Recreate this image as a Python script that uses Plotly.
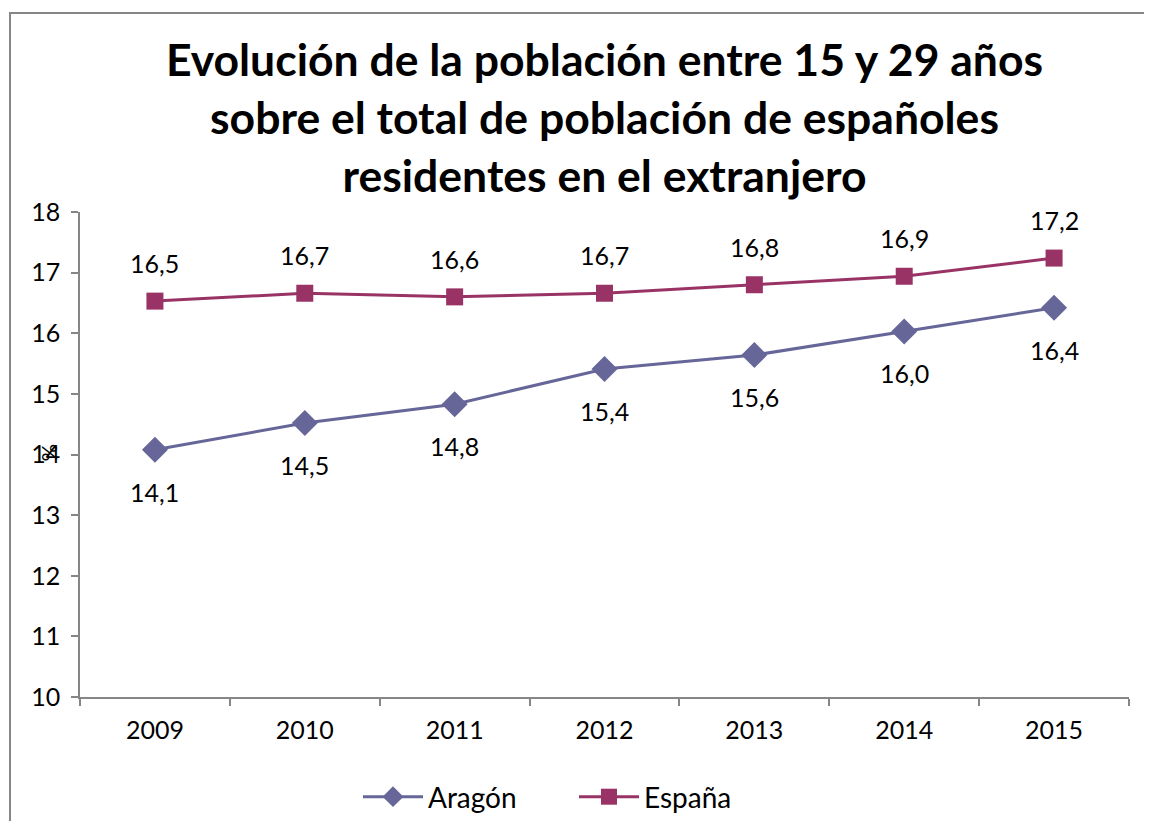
import plotly.graph_objects as go

years = ["2009", "2010", "2011", "2012", "2013", "2014", "2015"]
aragon = [14.08, 14.52, 14.83, 15.41, 15.64, 16.03, 16.42]
espana = [16.53, 16.66, 16.60, 16.66, 16.80, 16.94, 17.24]

title_lines = ["Evolución de la población entre 15 y 29 años",
               "sobre el total de población de españoles",
               "residentes en el extranjero"]

C_AR = "#666699"
C_ES = "#993366"
AX = "#868686"
FONT = "Lato, Carlito, Calibri, sans-serif"

# page has an 8px body margin; offsets below compensate for it
L, T, PW, PH = 72, 204, 1049, 485
W, H = 1152, 821

fig = go.Figure()
fig.add_trace(go.Scatter(x=years, y=aragon, name="Aragón", mode="lines+markers",
                         line=dict(color=C_AR, width=3),
                         marker=dict(symbol="diamond", size=20, color=C_AR)))
fig.add_trace(go.Scatter(x=years, y=espana, name="España", mode="lines+markers",
                         line=dict(color=C_ES, width=3),
                         marker=dict(symbol="square", size=17, color=C_ES)))

annotations = []
for i, v in enumerate(aragon):
    annotations.append(dict(x=i, y=v, xref="x", yref="y", text=f"{v:.1f}".replace(".", ","),
                            showarrow=False, yshift=-42, font=dict(size=25, color="#000000")))
for i, v in enumerate(espana):
    annotations.append(dict(x=i, y=v, xref="x", yref="y", text=f"{v:.1f}".replace(".", ","),
                            showarrow=False, yshift=38, font=dict(size=25, color="#000000")))
annotations.append(dict(x=(24 - L) / PW, y=(PH + T - 445) / PH, xref="paper", yref="paper",
                        text="%", textangle=-90, showarrow=False,
                        font=dict(size=22, color="#000000")))

fig.update_layout(
    width=W, height=H,
    margin=dict(l=L, r=W - L - PW, t=T, b=H - T - PH, autoexpand=False),
    paper_bgcolor="white", plot_bgcolor="white",
    font=dict(family=FONT, size=25, color="#000000"),
    title=dict(text="<br>".join(title_lines), x=0.5, xref="paper", xanchor="center",
               y=1 - 68 / H, yref="container", yanchor="middle",
               font=dict(family=FONT, size=44.5, color="#000000", weight="bold")),
    xaxis=dict(type="category", range=[-0.5, 6.5], showgrid=False, showline=True,
               linecolor=AX, linewidth=1.5, ticks="outside", tickson="boundaries",
               ticklen=7, tickcolor=AX, tickwidth=1.5, tickfont=dict(size=25),
               ticklabelstandoff=10),
    yaxis=dict(range=[10, 18], dtick=1, showgrid=False, showline=True, zeroline=False,
               linecolor=AX, linewidth=1.5, ticks="outside", ticklen=7, tickcolor=AX,
               tickwidth=1.5, tickfont=dict(size=25), ticklabelstandoff=6),
    legend=dict(orientation="h", x=(350 - L) / PW, xanchor="left", xref="paper",
                y=1 - 789 / H, yref="container", yanchor="middle",
                font=dict(size=28), itemwidth=60, entrywidth=141),
    annotations=annotations,
    shapes=[dict(type="rect", xref="paper", yref="paper",
                 x0=(2 - L) / PW, x1=(W + 20 - L) / PW,
                 y0=(T + PH - (H + 20)) / PH, y1=(T + PH - 5) / PH,
                 line=dict(color=AX, width=2), fillcolor="rgba(0,0,0,0)", layer="below")],
    showlegend=True,
)

fig.write_html("out.html")
